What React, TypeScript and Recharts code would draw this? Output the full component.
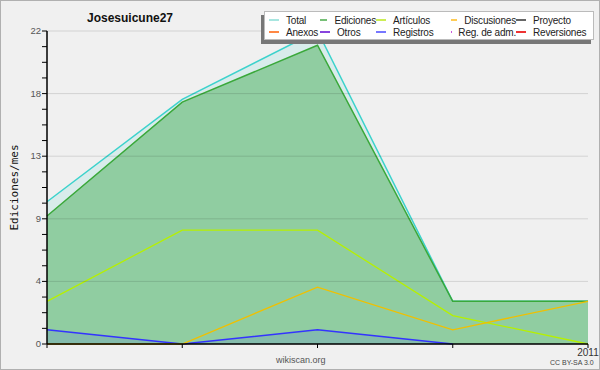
import React from 'react';
import { ComposedChart, Area, Line, XAxis, YAxis, ReferenceLine } from 'recharts';

const months = ['m1', 'm2', 'm3', 'm4', 'm5'];
const xTickLabels = ['', '', '', '', '2011'];
const total = [10, 17.2, 22, 3, 3];
const ediciones = [9, 17, 21, 3, 3];
const articulos = [3, 8, 8, 2, 0];
const discusiones = [0, 0, 4, 1, 3];
const registros = [1, 0, 1, 0, null];

const yTicks = [0, 1.1, 2.2, 3.3, 4.4, 5.5, 6.6, 7.7, 8.8, 9.9, 11, 12.1, 13.2, 14.3, 15.4, 16.5, 17.6, 18.7, 19.8, 20.9, 22];
const yMajor = [0, 4.4, 8.8, 13.2, 17.6, 22];
const yMajorLabels = ['0', '4', '9', '13', '18', '22'];

const legendItems = [
  { name: 'Total', color: '#a8e6e0' },
  { name: 'Ediciones', color: '#77c077' },
  { name: 'Artículos', color: '#ccee55' },
  { name: 'Discusiones', color: '#ffcc55' },
  { name: 'Proyecto', color: '#666666' },
  { name: 'Anexos', color: '#ff8844' },
  { name: 'Otros', color: '#8844dd' },
  { name: 'Registros', color: '#7777ff' },
  { name: 'Reg. de adm.', color: '#cc55dd' },
  { name: 'Reversiones', color: '#ee3333' },
];
const legendCols = [51, 56, 75, 65, 78];

const data = months.map((m, i) => ({
  m,
  total: total[i],
  ediciones: ediciones[i],
  articulos: articulos[i],
  discusiones: discusiones[i],
  registros: registros[i],
}));

const YTick = (props: any) => {
  const { x, y, payload } = props;
  const idx = yMajor.findIndex((v) => Math.abs(v - payload.value) < 1e-6);
  return (
    <g>
      <line x1={x - 5} x2={x} y1={y} y2={y} stroke="#000" strokeWidth={1} />
      {idx >= 0 && (
        <text x={x - 6} y={y} dy={3} textAnchor="end" fontSize={9.5} fill="#555" fontFamily="Liberation Sans">
          {yMajorLabels[idx]}
        </text>
      )}
    </g>
  );
};

const XTick = (props: any) => {
  const { x, y, index } = props;
  const label = xTickLabels[index];
  return (
    <text x={x} y={y} dy={6} textAnchor="middle" fontSize={10} fill="#333" fontFamily="Liberation Sans">
      {label}
    </text>
  );
};

export default function App() {
  return (
    <div
      style={{
        position: 'absolute',
        left: 0,
        top: 0,
        width: 600,
        height: 370,
        boxSizing: 'border-box',
        border: '1px solid #b0b0b0',
        background: '#f0f0f0',
        fontFamily: 'Liberation Sans',
        overflow: 'hidden',
      }}
    >
      <div style={{ position: 'absolute', left: -1, top: -1 }}>
        <ComposedChart width={600} height={370} data={data} margin={{ top: 31, right: 12, bottom: 0, left: 0 }}>
          <XAxis
            dataKey="m"
            type="category"
            scale="point"
            padding={{ left: 0, right: 0 }}
            height={26}
            axisLine={{ stroke: '#000', strokeWidth: 1.5 }}
            tickLine={{ stroke: '#000' }}
            tickSize={4}
            tick={<XTick />}
            interval={0}
          />
          <YAxis
            type="number"
            domain={[0, 22]}
            ticks={yTicks}
            interval={0}
            width={47}
            tickSize={0}
            tickMargin={0}
            tickLine={false}
            axisLine={{ stroke: '#000', strokeWidth: 1.5 }}
            tick={<YTick />}
            label={{
              value: 'Ediciones/mes',
              angle: -90,
              position: 'insideLeft',
              offset: 14,
              style: { fontFamily: 'DejaVu Sans Mono', fontSize: 11, fill: '#111', textAnchor: 'middle' },
            }}
          />
          <Area
            type="linear"
            dataKey="total"
            stroke="#3cd2cc"
            strokeWidth={1.5}
            fill="#3cd2cc"
            fillOpacity={0.13}
            isAnimationActive={false}
          />
          <Area
            type="linear"
            dataKey="ediciones"
            stroke="#3aa83a"
            strokeWidth={1.5}
            fill="#38a848"
            fillOpacity={0.45}
            isAnimationActive={false}
          />
          <Line type="linear" dataKey="articulos" stroke="#b6f000" strokeWidth={1.3} dot={false} isAnimationActive={false} />
          <Line type="linear" dataKey="discusiones" stroke="#f0c000" strokeWidth={1.3} dot={false} isAnimationActive={false} />
          <Area
            type="linear"
            dataKey="registros"
            stroke="#3333ff"
            strokeWidth={1.5}
            fill="#3344ff"
            fillOpacity={0.12}
            isAnimationActive={false}
          />
          {yMajor.map((v) => (
            <ReferenceLine key={v} y={v} stroke="#000" strokeOpacity={0.12} strokeWidth={1} />
          ))}
        </ComposedChart>
      </div>

      <div
        style={{
          position: 'absolute',
          left: 86,
          top: 10,
          fontSize: 12,
          fontWeight: 'bold',
          color: '#111',
        }}
      >
        Josesuicune27
      </div>

      <div
        style={{
          position: 'absolute',
          left: 263,
          top: 10,
          width: 330,
          height: 29,
          background: '#fff',
          border: '1px solid #bbb',
          boxShadow: '-3px 4px 0 0 #777',
          display: 'grid',
          gridTemplateColumns: legendCols.map((w) => w + 'px').join(' '),
          gridTemplateRows: '12px 12px',
          paddingLeft: 4,
          paddingTop: 2,
          boxSizing: 'border-box',
          fontSize: 10,
          letterSpacing: -0.2,
          color: '#222',
        }}
      >
        {legendItems.map((it) => (
          <div key={it.name} style={{ display: 'flex', alignItems: 'center', whiteSpace: 'nowrap' }}>
            <span style={{ display: 'inline-block', width: 10, height: 1.5, background: it.color, marginRight: 7 }} />
            {it.name}
          </div>
        ))}
      </div>

      <div style={{ position: 'absolute', left: 275, top: 354, fontSize: 9, color: '#555' }}>wikiscan.org</div>
      <div style={{ position: 'absolute', left: 549, top: 358, fontSize: 7, color: '#444' }}>CC BY-SA 3.0</div>
    </div>
  );
}
